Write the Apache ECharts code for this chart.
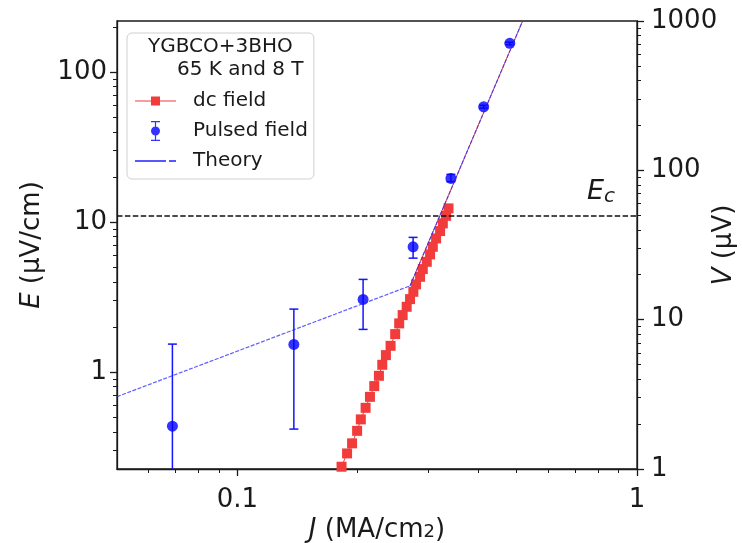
<!DOCTYPE html>
<html><head><meta charset="utf-8">
<script src="https://cdn.jsdelivr.net/npm/echarts@6/dist/echarts.min.js"></script>
<style>html,body{margin:0;padding:0;background:#fff}#c{width:742px;height:543px}</style>
</head><body><div id="c"></div>
<script>
// ---- data ----
const dcJ = [0.1823,0.1882,0.1937,0.1994,0.2037,0.2094,0.2147,0.2201,0.2261,0.2305,0.2354,0.2418,0.2483,0.2541,0.2592,0.2653,0.2705,0.2757,0.2800,0.2866,0.2911,0.2979,0.3036,0.3084,0.3143,0.3216,0.3267,0.3330,0.3376];
const dcE = [0.234,0.287,0.335,0.406,0.484,0.578,0.684,0.807,0.945,1.119,1.298,1.497,1.792,2.112,2.399,2.725,3.066,3.430,3.843,4.318,4.862,5.437,6.091,6.844,7.786,8.710,9.80,11.01,12.34];
const pulsedJ = [0.0688,0.1385,0.2064,0.2753,0.3423,0.4134,0.4805];
const pulsedE = [0.436,1.530,3.052,6.844,19.56,58.7,155.4];
const pulsedLow = [0.1,0.417,1.926,5.75,18.6,57.5,152];
const pulsedHigh = [1.537,2.63,4.15,7.91,20.8,60,158];
const theoryJ = [0.05,0.2705,0.5162];
const theoryE = [0.686,3.76,216];
const Ec = 11.1;
const xMajor = [0.1,1];
const xMinor = [0.06,0.07,0.08,0.09,0.2,0.3,0.4,0.5,0.6,0.7,0.8,0.9];
const yLeftMajor = [1,10,100];
const yLeftMinor = [0.3,0.4,0.5,0.6,0.7,0.8,0.9,2,3,4,5,6,7,8,9,20,30,40,50,60,70,80,90,200];
const yRightMajor = [1,10,100,1000];
const yRightMinor = [2,3,4,5,6,7,8,9,20,30,40,50,60,70,80,90,200,300,400,500,600,700,800,900];
const xRange = [0.05,1], yLeftRange = [0.226,219], yRightRange = [1,1000];

const FONT = 'DejaVu Sans';
const INK = '#1a1a1a';
const RED = '#f23c3c', BLUE = '#0000ff';

const fmt = v => String(+(+v).toPrecision(6));
const majorAxisCommon = {
  type:'log', logBase:10, splitLine:{show:false}, minorTick:{show:false}, minorSplitLine:{show:false},
  axisLine:{show:true, lineStyle:{color:INK, width:1.3}}, nameMoveOverlap:false
};
const minorAxisCommon = {
  type:'log', logBase:10, splitLine:{show:false}, axisLine:{show:false}, axisLabel:{show:false},
};

const chart = echarts.init(document.getElementById('c'), null, {renderer:'canvas'});
chart.setOption({
  animation:false,
  backgroundColor:'#fff',
  textStyle:{fontFamily:FONT},
  grid:{left:117, right:105, top:21, bottom:74, show:true, borderColor:INK, borderWidth:1.3, backgroundColor:'transparent', containLabel:false, outerBoundsMode:'none'},
  xAxis:[
    Object.assign({}, majorAxisCommon, {
      min:xRange[0], max:xRange[1], position:'bottom',
      axisTick:{show:true, inside:false, length:7, lineStyle:{color:INK, width:1.3}, customValues:xMajor},
      axisLabel:{show:true, customValues:xMajor, formatter:fmt, fontSize:26, color:INK, margin:18, fontFamily:FONT},
      name:'{i|J} (MA/cm{s|2})', nameLocation:'middle', nameGap:48,
      nameTextStyle:{fontSize:26, color:INK, fontFamily:FONT, rich:{i:{fontSize:26, fontStyle:'italic', fontFamily:FONT, color:INK}, s:{fontSize:18, fontFamily:FONT, color:INK, padding:[4,0,0,0]}}}
    }),
    Object.assign({}, minorAxisCommon, {
      min:xRange[0], max:xRange[1], position:'bottom',
      axisTick:{show:true, length:4, lineStyle:{color:INK, width:1}, customValues:xMinor}
    })
  ],
  yAxis:[
    Object.assign({}, majorAxisCommon, {
      min:yLeftRange[0], max:yLeftRange[1], position:'left',
      axisTick:{show:true, length:7, lineStyle:{color:INK, width:1.3}, customValues:yLeftMajor},
      axisLabel:{show:true, customValues:yLeftMajor, formatter:fmt, fontSize:26, color:INK, margin:10, fontFamily:FONT},
      name:'{i|E} (μV/cm)', nameLocation:'middle', nameGap:72, nameRotate:90,
      nameTextStyle:{fontSize:26, color:INK, fontFamily:FONT, rich:{i:{fontSize:26, fontStyle:'italic', fontFamily:FONT, color:INK}}}
    }),
    Object.assign({}, minorAxisCommon, {
      min:yLeftRange[0], max:yLeftRange[1], position:'left',
      axisTick:{show:true, length:4, lineStyle:{color:INK, width:1}, customValues:yLeftMinor}
    }),
    Object.assign({}, majorAxisCommon, {
      min:yRightRange[0], max:yRightRange[1], position:'right',
      axisTick:{show:true, length:7, lineStyle:{color:INK, width:1.3}, customValues:yRightMajor},
      axisLabel:{show:true, customValues:yRightMajor, formatter:fmt, fontSize:26, color:INK, margin:14, fontFamily:FONT},
      name:'{i|V} (μV)', nameLocation:'middle', nameGap:74, nameRotate:90,
      nameTextStyle:{fontSize:26, color:INK, fontFamily:FONT, rich:{i:{fontSize:26, fontStyle:'italic', fontFamily:FONT, color:INK}}}
    }),
    Object.assign({}, minorAxisCommon, {
      min:yRightRange[0], max:yRightRange[1], position:'right',
      axisTick:{show:true, length:4, lineStyle:{color:INK, width:1}, customValues:yRightMinor}
    })
  ],
  legend:{
    show:true, orient:'vertical', left:127, top:33,
    padding:[58,6,8,8], itemWidth:41, itemHeight:20, itemGap:10,
    backgroundColor:'rgba(255,255,255,0.85)', borderColor:'#cfcfcf', borderWidth:1, borderRadius:5,
    textStyle:{fontSize:20, color:INK, fontFamily:FONT, lineHeight:20, padding:[0,0,0,12]},
    selectedMode:false,
    data:[
      {name:'dc field', icon:'path://M0 4H16V0H25V4H41V5H25V9H16V5H0Z', itemStyle:{color:RED, borderWidth:0}},
      {name:'Pulsed field', icon:'path://M0 0H9V1.3H0Z M3.9 0H5.1V20H3.9Z M0 18.7H9V20H0Z M0 10A4.5 4.5 0 1 1 9 10A4.5 4.5 0 1 1 0 10Z', itemStyle:{color:BLUE, borderWidth:0}},
      {name:'Theory', icon:'path://M0 0H31V1.3H0Z M34 0H41V1.3H34Z', itemStyle:{color:'#2020ff', borderWidth:0}}
    ]
  },
  graphic:[
    {type:'text', left:148, top:37, z:100, style:{text:'YGBCO+3BHO', font:'20px "DejaVu Sans"', fill:INK}},
    {type:'text', left:177, top:60, z:100, style:{text:'65 K and 8 T', font:'20px "DejaVu Sans"', fill:INK}}
  ],
  series:[
    {
      name:'Theory steep', type:'line', xAxisIndex:0, yAxisIndex:0,
      data:theoryJ.slice(1).map((j,i)=>[j, theoryE[i+1]]),
      symbol:'none', lineStyle:{color:'rgba(230,40,40,0.85)', width:1}, z:3, silent:true
    },
    {
      name:'dc field', type:'line', xAxisIndex:0, yAxisIndex:0,
      data:dcJ.map((j,i)=>[j, dcE[i]]),
      symbol:'rect', symbolSize:10, showAllSymbol:true, color:RED,
      itemStyle:{color:RED}, lineStyle:{color:RED, width:1}, z:2,
      markLine:{
        silent:true, symbol:'none', animation:false,
        lineStyle:{color:'#111', width:1.5, type:[5.5,2.4]},
        label:{show:true, position:'insideEndTop', distance:[22,8], formatter:'{e|E}{c|c}',
          rich:{e:{fontSize:27, fontStyle:'italic', fontFamily:FONT, color:INK}, c:{fontSize:20, fontStyle:'italic', fontFamily:FONT, color:INK, padding:[10,0,0,0]}}},
        data:[{yAxis:Ec}]
      }
    },
    {
      name:'Pulsed field error', type:'custom', xAxisIndex:0, yAxisIndex:0, clip:true, z:4, silent:true,
      data:pulsedJ.map((j,i)=>[j, pulsedLow[i], pulsedHigh[i]]),
      renderItem:function(params, api){
        const lo = api.coord([api.value(0), api.value(1)]);
        const hi = api.coord([api.value(0), api.value(2)]);
        const w = 4.5, st = {stroke:'#1515ff', lineWidth:1.5};
        return {type:'group', children:[
          {type:'line', shape:{x1:lo[0], y1:lo[1], x2:hi[0], y2:hi[1]}, style:st},
          {type:'line', shape:{x1:hi[0]-w, y1:hi[1], x2:hi[0]+w, y2:hi[1]}, style:st},
          {type:'line', shape:{x1:lo[0]-w, y1:lo[1], x2:lo[0]+w, y2:lo[1]}, style:st}
        ]};
      }
    },
    {
      name:'Pulsed field', type:'scatter', xAxisIndex:0, yAxisIndex:0,
      data:pulsedJ.map((j,i)=>[j, pulsedE[i]]),
      symbol:'circle', symbolSize:11, color:BLUE, itemStyle:{color:BLUE}, z:5
    },
    {
      name:'Theory', type:'line', xAxisIndex:0, yAxisIndex:0,
      data:theoryJ.map((j,i)=>[j, theoryE[i]]),
      symbol:'none', color:'#2020ff',
      lineStyle:{color:'rgba(40,40,255,0.75)', width:1.2, type:[4,1.5]}, z:6, silent:true
    }
  ]
});
</script></body></html>
